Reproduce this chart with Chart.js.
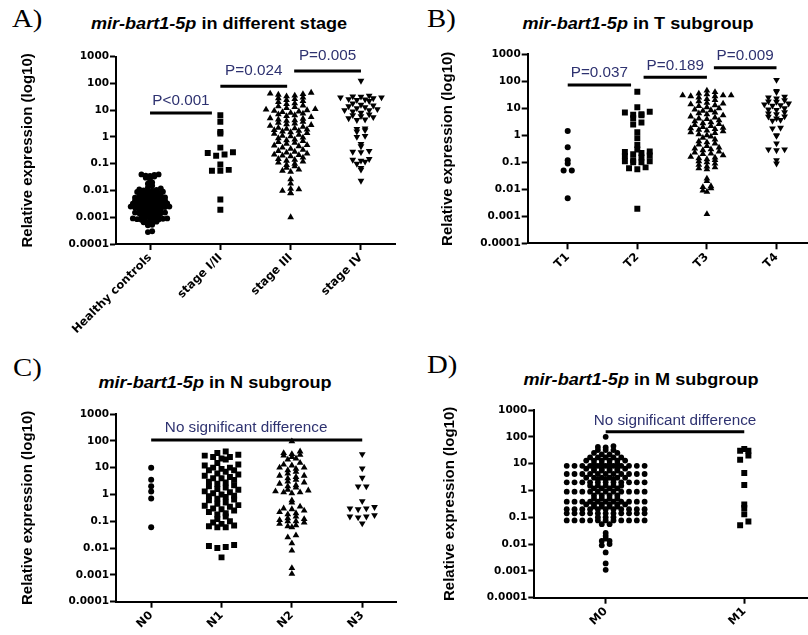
<!DOCTYPE html>
<html lang="en">
<head>
<meta charset="UTF-8">
<title>mir-bart1-5p expression by stage, T, N and M subgroup</title>
<script src="https://cdn.jsdelivr.net/npm/chart.js"></script>
<style>
  body { margin: 0; width: 808px; height: 635px; overflow: hidden; background: #fff; position: relative; }
  canvas { position: absolute; }
  .lbl { position: absolute; font-family: "Liberation Serif", "Times New Roman", serif; font-size: 25px; line-height: 25px; transform: scaleX(1.15); transform-origin: left top; }
  .ttl { position: absolute; font-family: "Liberation Sans", Arial, sans-serif; font-weight: bold; font-size: 16px; line-height: 16px; white-space: nowrap; transform: translateX(-50%) scaleX(1.13); }
</style>
</head>
<body>
  <div class="lbl" style="left:12px; top:6px">A)</div>
  <div class="lbl" style="left:427px; top:6px">B)</div>
  <div class="lbl" style="left:13px; top:355px">C)</div>
  <div class="lbl" style="left:427px; top:352px">D)</div>

  <div class="ttl" style="left:219px; top:16px"><i>mir-bart1-5p</i> in different stage</div>
  <div class="ttl" style="left:638px; top:16px"><i>mir-bart1-5p</i> in T subgroup</div>
  <div class="ttl" style="left:215px; top:375px"><i>mir-bart1-5p</i> in N subgroup</div>
  <div class="ttl" style="left:641px; top:372px"><i>mir-bart1-5p</i> in M subgroup</div>

  <canvas id="chartA" width="404" height="355" style="left:0; top:0"></canvas>
  <canvas id="chartB" width="420" height="300" style="left:404px; top:0"></canvas>
  <canvas id="chartC" width="404" height="295" style="left:0; top:340px"></canvas>
  <canvas id="chartD" width="420" height="295" style="left:404px; top:340px"></canvas>

<script>
// ---- data (relative expression) ----
const yTickLabels = ['0.0001', '0.001', '0.01', '0.1', '1', '10', '100', '1000'];

const stageCategories = ['Healthy controls', 'stage I/II', 'stage III', 'stage IV'];
const healthyControls = [
  0.04, 0.038, 0.036, 0.035, 0.033, 0.03, 0.04, 0.028,
  0.022, 0.02, 0.018, 0.015, 0.013,
  0.012, 0.011, 0.0105, 0.01, 0.0098, 0.0095, 0.009, 0.0088,
  0.0082, 0.008, 0.0078, 0.0075, 0.0072, 0.007, 0.0068, 0.0065,
  0.0062, 0.006, 0.0058, 0.0055, 0.0054, 0.0052, 0.005, 0.0048,
  0.0046, 0.0045, 0.0043, 0.0042, 0.0041, 0.004, 0.0039, 0.0038,
  0.0036, 0.0035, 0.0034, 0.0033, 0.0032, 0.0031, 0.003, 0.0029,
  0.0028, 0.0027, 0.0027, 0.0026, 0.0025, 0.0025, 0.0024, 0.0023,
  0.0022, 0.0022, 0.0021, 0.0021, 0.002, 0.002, 0.0019, 0.0018,
  0.0017, 0.0017, 0.0016, 0.0016, 0.0015, 0.0015, 0.0014, 0.0014,
  0.0013, 0.0013, 0.0012, 0.0012, 0.0011, 0.0011, 0.001, 0.001,
  0.00095, 0.0009, 0.0009, 0.00088, 0.00085, 0.00082, 0.0008,
  0.00075, 0.0007, 0.0007, 0.00068, 0.00065, 0.0006,
  0.00055, 0.00052, 0.0005, 0.0003, 0.00028
];
const stageI_II = [6.5, 3.7, 1.55, 1.35, 0.4, 0.27, 0.25, 0.22, 0.2, 0.093, 0.059, 0.055, 0.055, 0.0046, 0.0019];
const stageIII = [
  45, 42, 40, 38, 35, 33, 30, 28, 26, 24, 22, 20,
  18, 17, 15, 14, 13, 12, 11, 10.5, 10,
  9.5, 9, 8.5, 8, 7.5, 7, 6.5, 6, 5.5, 5,
  4.8, 4.5, 4.2, 4, 3.7, 3.4, 3.2, 3, 2.8, 2.6, 2.4, 2.2, 2.1, 2,
  1.9, 1.8, 1.7, 1.6, 1.5, 1.4, 1.3, 1.2, 1.1, 1.05,
  0.95, 0.9, 0.8, 0.75, 0.7, 0.65, 0.6, 0.55, 0.5,
  0.48, 0.45, 0.4, 0.36, 0.33, 0.3, 0.28, 0.26, 0.24, 0.22, 0.21, 0.2,
  0.19, 0.17, 0.15, 0.14, 0.13, 0.12, 0.11, 0.1,
  0.09, 0.08, 0.07, 0.06, 0.055, 0.05,
  0.026, 0.018, 0.0115, 0.011, 0.0097, 0.008, 0.0078, 0.001
];
const stageIV = [
  126, 35, 33, 32, 30, 30, 28, 26, 25, 24, 22, 18, 16, 15, 14, 13, 12, 11, 10, 10,
  9, 8, 7, 6.5, 6, 5.5, 5, 4.5, 4.3, 2.1, 2, 1.8, 1.6, 1.1, 1.0,
  0.55, 0.45, 0.3, 0.28, 0.27, 0.15, 0.14, 0.13, 0.12, 0.1, 0.07, 0.06, 0.023
];

const tCategories = ['T1', 'T2', 'T3', 'T4'];
const t1 = [1.45, 0.36, 0.12, 0.09, 0.05, 0.05, 0.0047];
const t2 = [41, 11, 7.5, 7, 6, 5.8, 5.5, 4.3, 3, 2.5, 1.3, 0.78, 0.44, 0.3, 0.25, 0.24, 0.22, 0.2,
  0.18, 0.17, 0.15, 0.12, 0.11, 0.11, 0.1, 0.1, 0.065, 0.06, 0.055, 0.0019];
const t3 = [
  45, 40, 35, 33, 30, 30, 28, 28, 30,
  25, 22, 20, 18, 16, 15, 14, 13, 12, 11, 10,
  9, 8.5, 8, 7, 6.5, 6, 5.5, 5,
  4.5, 4.2, 4, 3.6, 3.3, 3, 2.8, 2.6, 2.4, 2.2, 2,
  1.9, 1.8, 1.7, 1.6, 1.5, 1.4, 1.3, 1.2, 1.1, 1,
  0.9, 0.8, 0.7, 0.6, 0.55, 0.5,
  0.45, 0.4, 0.35, 0.32, 0.3, 0.28, 0.25, 0.23, 0.21, 0.2,
  0.18, 0.16, 0.15, 0.14, 0.13, 0.12, 0.11, 0.1,
  0.09, 0.08, 0.07, 0.065, 0.06, 0.055,
  0.025, 0.02, 0.013, 0.012, 0.011, 0.009, 0.008, 0.0012
];
const t4 = [112, 44, 40, 27, 25, 23, 20, 18, 17.5, 15, 14, 13, 12.5, 10, 9, 8.7, 7.1, 6.5, 6, 5,
  4.9, 4.2, 3.7, 3.5, 1.9, 1.8, 1.0, 0.95, 0.5, 0.3, 0.3, 0.28, 0.12, 0.09];

const nCategories = ['N0', 'N1', 'N2', 'N3'];
const n0 = [10, 3.5, 2, 1.3, 0.7, 0.06];
const n1 = [
  40, 35, 30, 28, 25, 25, 22, 20,
  15, 13, 12, 10, 10, 9, 8, 8,
  7, 6, 5.5, 5, 4.5, 4, 4, 3.5,
  3, 2.8, 2.5, 2.2, 2, 1.8, 1.6, 1.5,
  1.3, 1.2, 1.1, 1, 0.9, 0.85, 0.8, 0.7,
  0.65, 0.6, 0.5, 0.45, 0.4, 0.38, 0.35, 0.3,
  0.28, 0.25, 0.22, 0.2, 0.18, 0.15, 0.12, 0.1,
  0.09, 0.08, 0.07, 0.065, 0.06, 0.06,
  0.013, 0.012, 0.011, 0.01, 0.0045
];
const n2 = [
  95, 40, 35, 32, 30, 28, 25, 22, 20,
  15, 13, 12, 10, 10, 9, 8, 7, 6,
  5, 5, 4.5, 4, 3.5, 3, 2.8, 2.5, 2.2, 2,
  1.8, 1.5, 1.4, 1.3, 1.2, 1.2, 1.1,
  0.6, 0.5, 0.35, 0.3, 0.28, 0.25, 0.22, 0.2, 0.18,
  0.15, 0.13, 0.12, 0.11, 0.1, 0.1, 0.09, 0.08, 0.07, 0.065, 0.06,
  0.03, 0.025, 0.015, 0.008, 0.0018, 0.0011
];
const n3 = [32, 9.4, 4.2, 2, 2, 0.56, 0.34, 0.3, 0.3, 0.28, 0.17, 0.15, 0.15, 0.14, 0.083];

const mCategories = ['M0', 'M1'];
const m0 = [
  100, 45, 42, 40, 32, 32, 32, 25, 25, 22, 22,
  17, 17, 17, 17, 17, 13, 13, 13, 13, 13, 13, 10, 10, 10, 10,
  8.3, 8.3, 8.3, 8.3, 8.3, 8.3, 8.3, 8.3, 8.3, 8.3, 8.3,
  6.5, 6.5, 6.5, 6.5, 6.5, 6.5, 5.5, 5.5, 5.5, 5.5,
  4.1, 4.1, 4.1, 4.1, 4.1, 4.1, 4.1, 4.1, 4.1, 4.1, 4.1,
  3, 3, 3, 3, 3, 3, 2.6, 2.6, 2.6,
  2, 2, 2, 2, 2, 2, 2, 2, 2, 2, 2,
  1.5, 1.5, 1.5, 1.5, 1.5, 1.2, 1.2, 1.2, 1.2,
  0.9, 0.9, 0.9, 0.9, 0.9, 0.9, 0.9, 0.9, 0.9, 0.9, 0.9,
  0.65, 0.65, 0.65, 0.65, 0.5, 0.5, 0.5, 0.5,
  0.38, 0.38, 0.38, 0.38, 0.38, 0.38, 0.38, 0.38, 0.38, 0.38, 0.38,
  0.3, 0.3, 0.3, 0.3, 0.3, 0.3, 0.25, 0.25, 0.25, 0.25,
  0.2, 0.2, 0.2, 0.2, 0.2, 0.2, 0.2, 0.2, 0.2, 0.2, 0.2,
  0.14, 0.14, 0.14, 0.14, 0.14, 0.14, 0.14, 0.14, 0.14, 0.14, 0.14,
  0.1, 0.1, 0.1,
  0.076, 0.076, 0.076, 0.076, 0.076, 0.076, 0.076, 0.076, 0.076, 0.076, 0.076,
  0.055, 0.055,
  0.026, 0.02, 0.016, 0.013, 0.013, 0.01, 0.009, 0.0049, 0.0019, 0.0011
];
const m1 = [35, 30, 30, 20, 14, 4.5, 1.6, 0.3, 0.22, 0.13, 0.07, 0.05];

// significance bars: from/to in category units, at = y value of the bar
const stageBars = [
  { from: 0, to: 0.88, at: 7.85, gap: 7.7, text: 'P<0.001' },
  { from: 1, to: 1.95, at: 79, gap: 11, text: 'P=0.024' },
  { from: 2.05, to: 3, at: 290, gap: 11, text: 'P=0.005' }
];
const tBars = [
  { from: 0, to: 0.91, at: 73, gap: 7.7, text: 'P=0.037' },
  { from: 1.09, to: 2, at: 141, gap: 7.3, text: 'P=0.189' },
  { from: 2.1, to: 3, at: 319, gap: 7.7, text: 'P=0.009' }
];
const nBars = [{ from: 0, to: 3, at: 107, gap: 8.3, textAt: 1.35, text: 'No significant difference' }];
const mBars = [{ from: 0, to: 1, at: 155, gap: 6.7, text: 'No significant difference' }];

// ---- helpers ----
// dot-plot spread like Prism: points falling in the same horizontal band
// are laid side by side, centred on the category
function spread(values, pxPerDecade, band, step) {
  const rows = {};
  values.forEach((v, i) => {
    const k = Math.floor(Math.log10(v) * pxPerDecade / band);
    (rows[k] = rows[k] || []).push(i);
  });
  const out = new Array(values.length);
  Object.values(rows).forEach(idx => {
    idx.sort((a, b) => values[a] - values[b]);
    const n = idx.length;
    // fill from the middle outwards, alternating sides
    const slots = [];
    for (let k = 0; k < n; k++) slots.push((k - (n - 1) / 2) * step);
    slots.sort((a, b) => Math.abs(a) - Math.abs(b) || a - b);
    idx.forEach((i, j) => { out[i] = slots[j]; });
  });
  return out;
}

function group(values, index, style, geo) {
  const off = spread(values, geo.pxDecade, style.band, style.step);
  return {
    data: values.map((v, i) => ({ x: index + off[i] / geo.pxCat, y: v })),
    pointStyle: style.shape,
    pointRadius: style.r,
    pointRotation: style.rot || 0,
    backgroundColor: '#000',
    borderWidth: 0,
    showLine: false
  };
}

const circle = { shape: 'circle', r: 3, band: 5, step: 8.3 };
const denseCircle = { shape: 'circle', r: 2.9, band: 3, step: 4.3 };
const square = { shape: 'rect', r: 4.2, band: 5, step: 8.4 };
const triUp = { shape: 'triangle', r: 3.9, band: 4, step: 8.2 };
const triDown = { shape: 'triangle', r: 3.9, band: 4, step: 8.2, rot: 180 };
const packedCircle = { shape: 'circle', r: 2.9, band: 2.5, step: 7.9 };

const barsPlugin = {
  id: 'bars',
  afterDatasetsDraw(chart, args, opts) {
    const { ctx, scales: { x, y } } = chart;
    (opts.items || []).forEach(b => {
      const x0 = x.getPixelForValue(b.from), x1 = x.getPixelForValue(b.to);
      const yy = y.getPixelForValue(b.at);
      ctx.save();
      ctx.strokeStyle = '#000';
      ctx.lineWidth = 3;
      ctx.beginPath();
      ctx.moveTo(x0, yy);
      ctx.lineTo(x1, yy);
      ctx.stroke();
      const tx = b.textAt !== undefined ? x.getPixelForValue(b.textAt) : (x0 + x1) / 2;
      ctx.translate(tx, yy - b.gap);
      ctx.scale(1.09, 1);
      ctx.font = '14px "Liberation Sans", Arial, sans-serif';
      ctx.fillStyle = '#2e3270';
      ctx.textAlign = 'center';
      ctx.textBaseline = 'alphabetic';
      ctx.fillText(b.text, 0, 0);
      ctx.restore();
    });
  }
};

function makePanel(id, cats, datasets, bars, g) {
  return new Chart(document.getElementById(id), {
    type: 'scatter',
    data: { datasets },
    options: {
      responsive: false,
      animation: false,
      events: [],
      layout: { padding: { top: g.top, right: g.right, left: 0, bottom: 0 } },
      plugins: { legend: { display: false }, tooltip: { enabled: false }, bars: { items: bars } },
      scales: {
        x: {
          type: 'linear', min: g.xmin, max: g.xmax,
          afterBuildTicks: s => { s.ticks = cats.map((c, i) => ({ value: i })); },
          afterFit: s => { s.height = g.xh; },
          ticks: {
            autoSkip: false, minRotation: 45, maxRotation: 45, padding: 1, color: '#000',
            font: { family: 'DejaVu Sans', weight: 'bold', size: 11.5 },
            callback: v => cats[v]
          },
          grid: { drawOnChartArea: false, drawTicks: true, tickLength: 6, tickWidth: 2, color: '#000' },
          border: { display: true, color: '#000', width: 2 }
        },
        y: {
          type: 'logarithmic', min: 1e-4, max: 1e3,
          afterBuildTicks: s => { s.ticks = yTickLabels.map(t => ({ value: Number(t) })); },
          afterFit: s => { s.width = g.yw; },
          ticks: {
            padding: 1, color: '#000',
            font: { family: 'DejaVu Sans', weight: 'bold', size: 10.5 },
            callback: (v, i) => yTickLabels[i]
          },
          title: {
            display: true, text: 'Relative expression (log10)', color: '#000',
            font: { family: 'Liberation Sans', weight: 'bold', size: 15 },
            padding: { top: g.tp, bottom: 0 }
          },
          grid: { drawOnChartArea: false, drawTicks: true, tickLength: 6, tickWidth: 2, color: '#000' },
          border: { display: true, color: '#000', width: 2 }
        }
      }
    },
    plugins: [barsPlugin]
  });
}

// ---- panels ----
const geoA = { top: 56.7, right: 9, yw: 116, xh: 111, xmin: -0.484, xmax: 3.484, tp: 19, pxDecade: 26.6, pxCat: 70.3 };
makePanel('chartA', stageCategories, [
  group(healthyControls, 0, denseCircle, geoA),
  group(stageI_II, 1, square, geoA),
  group(stageIII, 2, triUp, geoA),
  group(stageIV, 3, triDown, geoA)
], stageBars, geoA);

const geoB = { top: 54.3, right: 0, yw: 123.7, xh: 56.7, xmin: -0.575, xmax: 3.622, tp: 35.3, pxDecade: 27, pxCat: 70.6 };
makePanel('chartB', tCategories, [
  group(t1, 0, circle, geoB),
  group(t2, 1, square, geoB),
  group(t3, 2, triUp, geoB),
  group(t4, 3, triDown, geoB)
], tBars, geoB);

const geoC = { top: 74, right: 7.3, yw: 116, xh: 33.3, xmin: -0.5, xmax: 3.49, tp: 19.3, pxDecade: 26.8, pxCat: 70.4 };
makePanel('chartC', nCategories, [
  group(n0, 0, circle, geoC),
  group(n1, 1, square, geoC),
  group(n2, 2, triUp, geoC),
  group(n3, 3, triDown, geoC)
], nBars, geoC);

const geoD = { top: 70, right: 0, yw: 130.3, xh: 37.3, xmin: -0.515, xmax: 1.545, tp: 37, pxDecade: 26.8, pxCat: 140.6 };
makePanel('chartD', mCategories, [
  group(m0, 0, packedCircle, geoD),
  group(m1, 1, square, geoD)
], mBars, geoD);
</script>
</body>
</html>
